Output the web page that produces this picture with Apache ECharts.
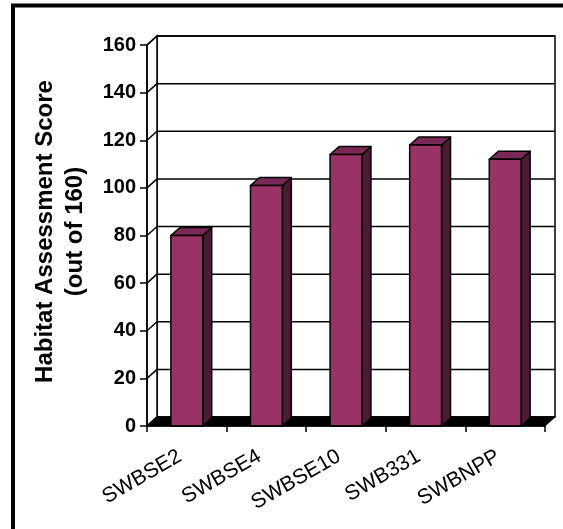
<!DOCTYPE html>
<html>
<head>
<meta charset="utf-8">
<script src="https://cdn.jsdelivr.net/npm/echarts@6/dist/echarts.min.js"></script>
<style>
  html, body { margin: 0; padding: 0; background: #fff; }
  #chart { width: 563px; height: 529px; }
</style>
</head>
<body>
<div id="chart"></div>
<script>
// site names and habitat scores (out of 160)
const categories = ['SWBSE2', 'SWBSE4', 'SWBSE10', 'SWB331', 'SWBNPP']
const scores = [80, 101, 114, 118, 112]
const yTicks = [0, 20, 40, 60, 80, 100, 120, 140, 160]

// 3d look: back wall offset and bar depth
const WALL_DX = 10, WALL_DY = -9
const BAR_DX = 9, BAR_DY = -8
const FONT = 'Liberation Sans, Arial, sans-serif'

const chart = echarts.init(document.getElementById('chart'))

function renderWall(params, api) {
  const cs = params.coordSys
  const x0 = cs.x, x1 = cs.x + cs.width
  const yTop = api.coord([0, 160])[1], yBot = api.coord([0, 0])[1]
  return {
    type: 'group',
    children: [
      {
        type: 'rect',
        shape: { x: x0 + WALL_DX, y: yTop + WALL_DY, width: x1 - x0, height: yBot - yTop },
        style: { fill: '#fff', stroke: '#000', lineWidth: 1.5 }
      },
      {
        type: 'polygon',
        shape: { points: [[x0, yTop], [x0 + WALL_DX, yTop + WALL_DY], [x0 + WALL_DX, yBot + WALL_DY], [x0, yBot]] },
        style: { fill: '#fff', stroke: '#000', lineWidth: 1.5 }
      }
    ]
  }
}

function renderGrid(params, api) {
  const cs = params.coordSys
  const x0 = cs.x, x1 = cs.x + cs.width
  const y = api.coord([0, api.value(1)])[1]
  return {
    type: 'group',
    children: [
      { type: 'line', shape: { x1: x0, y1: y, x2: x0 + WALL_DX, y2: y + WALL_DY }, style: { stroke: '#000', lineWidth: 1.5 } },
      { type: 'line', shape: { x1: x0 + WALL_DX, y1: y + WALL_DY, x2: x1 + WALL_DX, y2: y + WALL_DY }, style: { stroke: '#000', lineWidth: 1.5 } }
    ]
  }
}

function renderFloor(params, api) {
  const cs = params.coordSys
  const x0 = cs.x, x1 = cs.x + cs.width
  const y = api.coord([0, 0])[1]
  return {
    type: 'polygon',
    shape: { points: [[x0, y], [x0 + WALL_DX, y + WALL_DY], [x1 + WALL_DX, y + WALL_DY], [x1, y]] },
    style: { fill: '#000', stroke: '#000', lineWidth: 1 }
  }
}

function renderBar(params, api) {
  const idx = api.value(0)
  const top = api.coord([idx, api.value(1)])
  const base = api.coord([idx, 0])
  const w = api.size([1, 0])[0] * 0.4
  const xl = top[0] - w / 2, xr = top[0] + w / 2
  const yt = top[1], yb = base[1]
  const line = { stroke: '#000', lineWidth: 1.5, lineJoin: 'round' }
  return {
    type: 'group',
    children: [
      {
        type: 'polygon',
        shape: { points: [[xr, yt], [xr + BAR_DX, yt + BAR_DY], [xr + BAR_DX, yb + BAR_DY], [xr, yb]] },
        style: Object.assign({ fill: '#4d1a36' }, line)
      },
      {
        type: 'polygon',
        shape: { points: [[xl, yt], [xl + BAR_DX, yt + BAR_DY], [xr + BAR_DX, yt + BAR_DY], [xr, yt]] },
        style: Object.assign({ fill: '#7a2957' }, line)
      },
      {
        type: 'rect',
        shape: { x: xl, y: yt, width: w, height: yb - yt },
        style: Object.assign({ fill: '#993366' }, line)
      }
    ]
  }
}

chart.setOption({
  animation: false,
  backgroundColor: '#fff',
  graphic: [
    {
      type: 'rect',
      shape: { x: 13, y: 5.5, width: 700, height: 700 },
      style: { fill: 'none', stroke: '#000', lineWidth: 4 },
      z: 100
    }
  ],
  grid: { left: 147, right: 18, top: 45, bottom: 103, containLabel: false, outerBoundsMode: 'none' },
  xAxis: {
    type: 'category',
    data: categories,
    boundaryGap: true,
    axisLine: { show: true, lineStyle: { color: '#000', width: 1.5 } },
    axisTick: { show: true, interval: 0, length: 6, lineStyle: { color: '#000', width: 1.5 } },
    axisLabel: {
      interval: 0,
      rotate: 30,
      margin: 25,
      padding: [0, 8, 0, 0],
      color: '#000',
      fontSize: 21,
      fontFamily: FONT
    },
    splitLine: { show: false },
    z: 10
  },
  yAxis: {
    type: 'value',
    min: 0,
    max: 160,
    interval: 20,
    name: 'Habitat Assessment Score\n(out of 160)',
    nameLocation: 'middle',
    nameRotate: 90,
    nameGap: 57,
    nameTextStyle: { color: '#000', fontSize: 24, fontWeight: 'bold', fontFamily: FONT, lineHeight: 30, padding: [0, 0, 0, 8] },
    axisLine: { show: true, lineStyle: { color: '#000', width: 1.5 } },
    axisTick: { show: true, length: 7, lineStyle: { color: '#000', width: 1.5 } },
    axisLabel: { color: '#000', fontSize: 20, fontWeight: 'bold', fontFamily: FONT, margin: 11 },
    splitLine: { show: false },
    z: 10
  },
  series: [
    { type: 'custom', renderItem: renderWall, data: [[0, 0]], z: 1, silent: true },
    { type: 'custom', renderItem: renderGrid, data: yTicks.map(t => [0, t]), z: 2, silent: true },
    { type: 'custom', renderItem: renderFloor, data: [[0, 0]], z: 3, silent: true },
    {
      type: 'custom',
      name: 'Score',
      renderItem: renderBar,
      data: scores.map((v, i) => [i, v]),
      encode: { x: 0, y: 1 },
      z: 4
    }
  ]
})
</script>
</body>
</html>
